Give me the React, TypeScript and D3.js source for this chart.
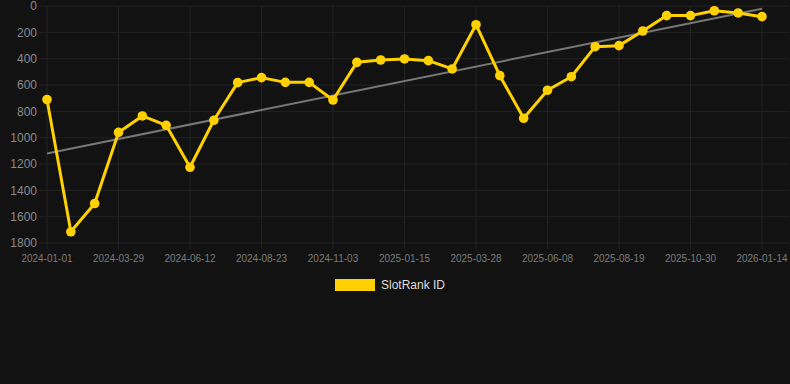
import React from "react";
import * as d3 from "d3";

const categories: string[] = [
  "2024-01-01", "2024-01-30", "2024-02-28", "2024-03-29", "2024-04-23", "2024-05-18",
  "2024-06-12", "2024-07-06", "2024-07-30", "2024-08-23", "2024-09-16", "2024-10-10",
  "2024-11-03", "2024-11-27", "2024-12-21", "2025-01-15", "2025-02-08", "2025-03-04",
  "2025-03-28", "2025-04-21", "2025-05-15", "2025-06-08", "2025-07-02", "2025-07-26",
  "2025-08-19", "2025-09-12", "2025-10-06", "2025-10-30", "2025-11-24", "2025-12-19",
  "2026-01-14",
];

const rankValues: number[] = [
  710, 1715, 1500, 960, 835, 906, 1225, 868, 582, 544, 580, 580, 714, 428, 410, 402,
  415, 478, 142, 529, 853, 640, 537, 309, 301, 190, 73, 73, 36, 53, 81,
];

const yTicks: number[] = [0, 200, 400, 600, 800, 1000, 1200, 1400, 1600, 1800];
const seriesName = "SlotRank ID";

const W = 790;
const H = 384;
const left = 47;
const right = 762;
const top = 6;
const bottom = 243;

export default function App() {
  const x = d3.scalePoint<string>().domain(categories).range([left, right]);
  const y = d3.scaleLinear().domain([0, 1800]).range([top, bottom]);

  const pts = categories.map((c, i) => ({ c, i, v: rankValues[i] }));
  const line = d3
    .line<{ c: string; v: number }>()
    .x((d) => x(d.c) as number)
    .y((d) => y(d.v));

  // linear regression trend
  const n = rankValues.length;
  const mx = d3.mean(pts, (d) => d.i) as number;
  const my = d3.mean(rankValues) as number;
  const sxy = d3.sum(pts, (d) => (d.i - mx) * (d.v - my));
  const sxx = d3.sum(pts, (d) => (d.i - mx) * (d.i - mx));
  const slope = sxy / sxx;
  const icpt = my - slope * mx;
  const t0 = icpt;
  const t1 = icpt + slope * (n - 1);

  const labeled = categories.filter((_, i) => i % 3 === 0);

  return (
    <svg
      width={W}
      height={H}
      style={{ position: "absolute", left: 0, top: 0, background: "#121212" }}
      fontFamily="'Liberation Sans', Arial, Helvetica, sans-serif"
    >
      <rect x={0} y={0} width={W} height={H} fill="#121212" />
      {yTicks.map((t) => (
        <g key={t}>
          <line x1={39} x2={789} y1={y(t)} y2={y(t)} stroke="#222222" strokeWidth={1} />
          <text
            x={37}
            y={y(t)}
            dy="0.35em"
            textAnchor="end"
            fontSize={12}
            fill="#8a8a8a"
          >
            {t}
          </text>
        </g>
      ))}
      {labeled.map((c) => (
        <g key={c}>
          <line
            x1={x(c) as number}
            x2={x(c) as number}
            y1={top}
            y2={bottom + 6}
            stroke="#222222"
            strokeWidth={1}
          />
          <text
            x={x(c) as number}
            y={262}
            textAnchor="middle"
            fontSize={10}
            fill="#7a7a7a"
          >
            {c}
          </text>
        </g>
      ))}
      <line
        x1={x(categories[0]) as number}
        x2={x(categories[n - 1]) as number}
        y1={y(t0)}
        y2={y(t1)}
        stroke="#777777"
        strokeWidth={2}
      />
      <path d={line(pts) || ""} fill="none" stroke="#FFD100" strokeWidth={3} strokeLinejoin="round" />
      {pts.map((d) => (
        <circle key={d.c} cx={x(d.c) as number} cy={y(d.v)} r={4.8} fill="#FFD100" />
      ))}
      <rect x={335} y={279} width={40} height={12} fill="#FFD100" />
      <text x={381} y={285} dy="0.35em" fontSize={12} fill="#dddddd">
        {seriesName}
      </text>
    </svg>
  );
}
